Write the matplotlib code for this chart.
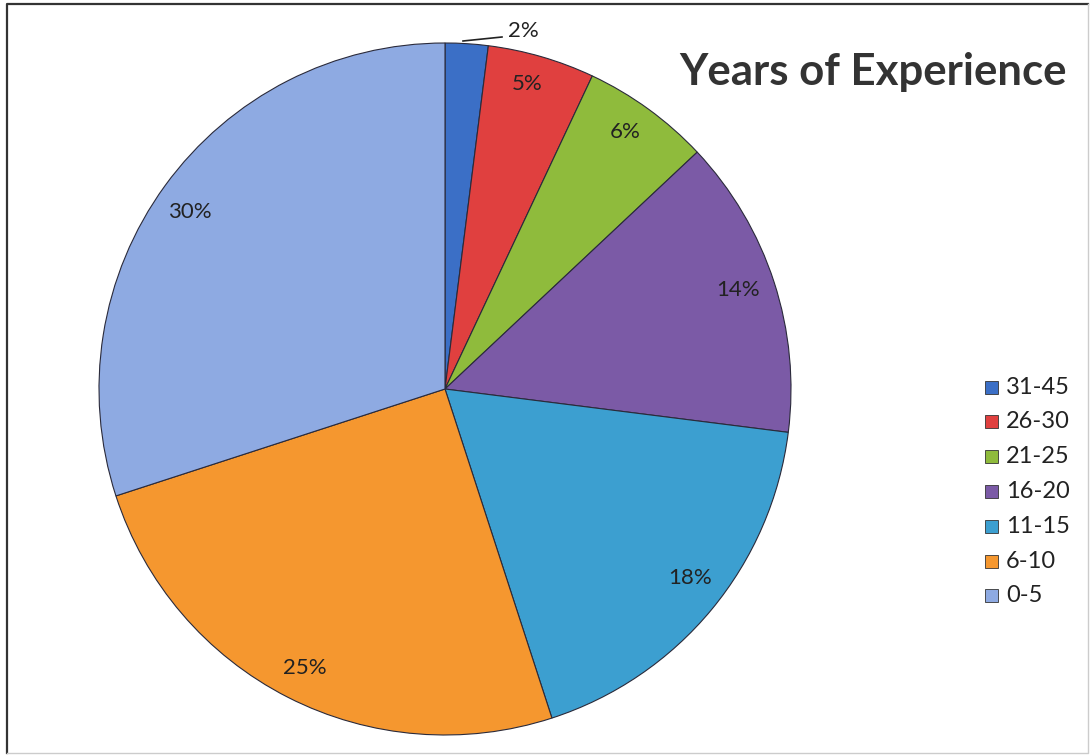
import matplotlib
matplotlib.use("Agg")
import matplotlib.pyplot as plt
from matplotlib.patches import Rectangle

# Years of experience distribution (percent of respondents)
categories = ["31-45", "26-30", "21-25", "16-20", "11-15", "6-10", "0-5"]
shares = [2, 5, 6, 14, 18, 25, 30]
colors = ["#3b6fc6", "#e0403f", "#8fbb3c", "#7b5aa6", "#3c9fd0", "#f5972f", "#8eaae2"]
title = "Years of Experience"

W, H = 1090, 755
fig = plt.figure(figsize=(W / 100, H / 100), dpi=100)
ax = fig.add_axes([0, 0, 1, 1])

cx, cy, r = 445, H - 389, 346
wedges, _ = ax.pie(
    shares, colors=colors, startangle=90, counterclock=False,
    center=(cx, cy), radius=r, frame=True,
    wedgeprops=dict(edgecolor="#2a2a3a", linewidth=0.8),
)
ax.set_xlim(0, W)
ax.set_ylim(0, H)
ax.set_aspect("equal")
ax.axis("off")

# percentage labels
label_pos = {
    "31-45": (523, H - 31),
    "26-30": (527, H - 84),
    "21-25": (625, H - 132),
    "16-20": (738, H - 290),
    "11-15": (690, H - 578),
    "6-10": (305, H - 668),
    "0-5": (190, H - 212),
}
for cat, val in zip(categories, shares):
    x, y = label_pos[cat]
    ax.text(x, y, f"{val}%", fontsize=16, family="Lato", color="#222222",
            ha="center", va="center")
# leader line for the smallest slice
ax.plot([463, 502], [H - 41, H - 37], color="#222222", lw=1.2)

ax.text(1067, H - 72, title, fontsize=31.5, fontweight="bold", family="Lato",
        color="#333333", ha="right", va="center")

# legend
y0, dy = H - 387, 34.8
for i, (cat, col) in enumerate(zip(categories, colors)):
    y = y0 - i * dy
    ax.add_patch(Rectangle((985, y - 6.5), 13, 13, facecolor=col,
                           edgecolor="#333333", lw=0.6))
    ax.text(1006, y, cat, fontsize=17, family="Lato", color="#222222",
            ha="left", va="center")

# outer frame
ax.plot([7, 7, 1088], [2, H - 4, H - 4], color="#333333", lw=1.6)
ax.plot([7, 1088, 1088], [2, 2, H - 4], color="#cccccc", lw=1.0)

fig.savefig("out.png", dpi=100)
